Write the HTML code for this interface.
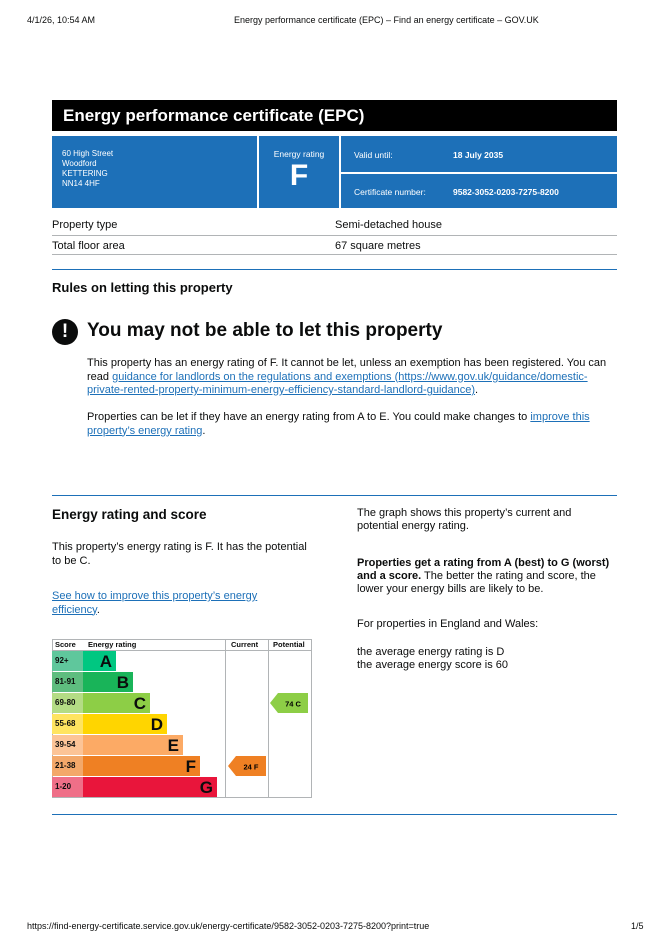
<!DOCTYPE html>
<html><head><meta charset="utf-8"><style>
body{margin:0;width:670px;height:948px;background:#fff;font-family:"Liberation Sans",sans-serif;color:#0b0c0c;position:relative;overflow:hidden}
.a{position:absolute;white-space:nowrap}
a{color:#1d70b8;text-decoration:underline}
.hr{position:absolute;left:52px;width:565px;height:1px;background:#1d70b8}
.sc{position:absolute;left:52px;width:31px;height:20px;font-size:8px;font-weight:bold;line-height:20px;padding-left:3px;box-sizing:border-box}
.bar{position:absolute;left:83px;height:20px;font-size:17px;font-weight:bold;text-align:right;padding-right:4px;box-sizing:border-box;line-height:21px;color:#0b0c0c}
</style></head><body>
<div class="a" style="left:27px;top:15px;font-size:9px">4/1/26, 10:54 AM</div>
<div class="a" style="left:234px;top:15px;font-size:9px">Energy performance certificate (EPC) – Find an energy certificate – GOV.UK</div>

<div class="a" style="left:52px;top:100px;width:565px;height:31px;background:#000;color:#fff;font-size:17px;font-weight:bold;line-height:31px;padding-left:11px;box-sizing:border-box">Energy performance certificate (EPC)</div>
<div class="a" style="left:52px;top:136px;width:205px;height:72px;background:#1d70b8;color:#fff;font-size:8px;padding:13px 0 0 10px;box-sizing:border-box;line-height:10px">60 High Street<br>Woodford<br>KETTERING<br>NN14 4HF</div>
<div class="a" style="left:259px;top:136px;width:80px;height:72px;background:#1d70b8;color:#fff;text-align:center;font-size:8.5px;padding-top:13px;box-sizing:border-box">Energy rating<div style="font-size:30px;font-weight:bold;line-height:30px;margin-top:2px">F</div></div>
<div class="a" style="left:341px;top:136px;width:276px;height:36px;background:#1d70b8;color:#fff;font-size:8.5px;line-height:38px"><span style="margin-left:13px">Valid until:</span><b style="position:absolute;left:112px">18 July 2035</b></div>
<div class="a" style="left:341px;top:174px;width:276px;height:34px;background:#1d70b8;color:#fff;font-size:8.5px;line-height:36px"><span style="margin-left:13px">Certificate number:</span><b style="position:absolute;left:112px">9582-3052-0203-7275-8200</b></div>

<div class="a" style="left:52px;top:219px;font-size:11px">Property type</div>
<div class="a" style="left:335px;top:219px;font-size:11px">Semi-detached house</div>
<div class="a" style="left:52px;top:235px;width:565px;height:1px;background:#b1b4b6"></div>
<div class="a" style="left:52px;top:240px;font-size:11px">Total floor area</div>
<div class="a" style="left:335px;top:240px;font-size:11px">67 square metres</div>
<div class="a" style="left:52px;top:254px;width:565px;height:1px;background:#b1b4b6"></div>
<div class="hr" style="top:269px"></div>

<div class="a" style="left:52px;top:280px;font-size:13px;font-weight:bold">Rules on letting this property</div>
<div class="a" style="left:52px;top:319px;width:26px;height:26px;border-radius:50%;background:#0b0c0c;color:#fff;font-weight:bold;font-size:19px;text-align:center;line-height:26px">!</div>
<div class="a" style="left:87px;top:320px;font-size:19px;font-weight:bold">You may not be able to let this property</div>
<div class="a" style="left:87px;top:357px;font-size:11px;line-height:13.5px;white-space:normal;width:532px">This property has an energy rating of F. It cannot be let, unless an exemption has been registered. You can read <a>guidance for landlords on the regulations and exemptions (https://www.gov.uk/guidance/domestic-private-rented-property-minimum-energy-efficiency-standard-landlord-guidance)</a>.</div>
<div class="a" style="left:87px;top:411px;font-size:11px;line-height:13.5px;white-space:normal;width:525px">Properties can be let if they have an energy rating from A to E. You could make changes to <a>improve this property’s energy rating</a>.</div>

<div class="hr" style="top:495px"></div>
<div class="a" style="left:52px;top:507px;font-size:13.5px;font-weight:bold">Energy rating and score</div>
<div class="a" style="left:52px;top:541px;font-size:11px;line-height:13.5px;white-space:normal;width:265px">This property’s energy rating is F. It has the potential to be C.</div>
<div class="a" style="left:52px;top:590px;font-size:11px;line-height:13.5px;white-space:normal;width:230px"><a>See how to improve this property’s energy efficiency</a>.</div>

<div class="a" style="left:357px;top:507px;font-size:11px;line-height:13px;white-space:normal;width:240px">The graph shows this property’s current and potential energy rating.</div>
<div class="a" style="left:357px;top:557px;font-size:11px;line-height:13px;white-space:normal;width:262px"><b>Properties get a rating from A (best) to G (worst) and a score.</b> The better the rating and score, the lower your energy bills are likely to be.</div>
<div class="a" style="left:357px;top:618px;font-size:11px">For properties in England and Wales:</div>
<div class="a" style="left:357px;top:646px;font-size:11px;line-height:13px">the average energy rating is D<br>the average energy score is 60</div>

<div class="a" style="left:52px;top:639px;width:260px;height:159px;border:1px solid #b1b4b6;box-sizing:border-box"></div>
<div class="a" style="left:52px;top:650px;width:260px;height:1px;background:#b1b4b6"></div>
<div class="a" style="left:225px;top:639px;width:1px;height:159px;background:#b1b4b6"></div>
<div class="a" style="left:268px;top:639px;width:1px;height:159px;background:#b1b4b6"></div>
<div class="a" style="left:55px;top:640px;font-size:7.5px;font-weight:bold">Score</div>
<div class="a" style="left:88px;top:640px;font-size:7.5px;font-weight:bold">Energy rating</div>
<div class="a" style="left:231px;top:640px;font-size:7.5px;font-weight:bold">Current</div>
<div class="a" style="left:273px;top:640px;font-size:7.5px;font-weight:bold">Potential</div>

<div class="sc" style="top:651px;background:#5fc79c">92+</div><div class="bar" style="top:651px;width:33px;background:#00c781">A</div>
<div class="sc" style="top:672px;background:#5ebd7f">81-91</div><div class="bar" style="top:672px;width:50px;background:#19b459">B</div>
<div class="sc" style="top:693px;background:#b4dc85">69-80</div><div class="bar" style="top:693px;width:67px;background:#8dce46">C</div>
<div class="sc" style="top:714px;background:#ffe460">55-68</div><div class="bar" style="top:714px;width:84px;background:#ffd500">D</div>
<div class="sc" style="top:735px;background:#fcc497">39-54</div><div class="bar" style="top:735px;width:100px;background:#fcaa65">E</div>
<div class="sc" style="top:756px;background:#f3a86a">21-38</div><div class="bar" style="top:756px;width:117px;background:#ef8023">F</div>
<div class="sc" style="top:777px;background:#ef6f88">1-20</div><div class="bar" style="top:777px;width:134px;background:#e9153b">G</div>

<svg class="a" style="left:228px;top:756px" width="40" height="20"><polygon points="0,10 8,0 38,0 38,20 8,20" fill="#ef8023"/><text x="23" y="13.5" font-size="7.5" font-weight="bold" text-anchor="middle" font-family="Liberation Sans">24 F</text></svg>
<svg class="a" style="left:270px;top:693px" width="40" height="20"><polygon points="0,10 8,0 38,0 38,20 8,20" fill="#8dce46"/><text x="23" y="13.5" font-size="7.5" font-weight="bold" text-anchor="middle" font-family="Liberation Sans">74 C</text></svg>

<div class="hr" style="top:814px"></div>
<div class="a" style="left:27px;top:921px;font-size:9px">https://find-energy-certificate.service.gov.uk/energy-certificate/9582-3052-0203-7275-8200?print=true</div>
<div class="a" style="left:631px;top:921px;font-size:9px">1/5</div>
</body></html>
